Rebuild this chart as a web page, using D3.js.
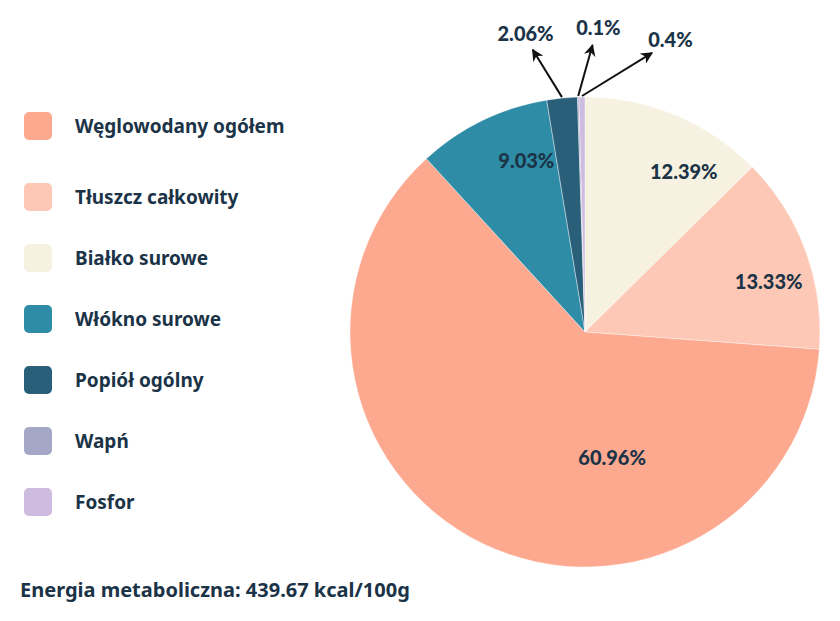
<!DOCTYPE html>
<html lang="pl">
<head>
<meta charset="UTF-8">
<title>Skład</title>
<script src="https://cdn.jsdelivr.net/npm/d3@7"></script>
<style>
  body { margin: 0; background: #fff; }
  svg { display: block; }
</style>
</head>
<body>
<svg width="840" height="621"></svg>
<script>
// dane
var categories = ["Białko surowe", "Tłuszcz całkowity", "Węglowodany ogółem", "Włókno surowe", "Popiół ogólny", "Wapń", "Fosfor"];
var values = [12.39, 13.33, 60.96, 9.03, 2.06, 0.1, 0.4];
var colors = ["#f7f1e1", "#fdc8b5", "#fca98f", "#2e8ca6", "#2a5f7a", "#a5a7c6", "#cdbbe0"];
// kolejność w legendzie
var legendOrder = ["Węglowodany ogółem", "Tłuszcz całkowity", "Białko surowe", "Włókno surowe", "Popiół ogólny", "Wapń", "Fosfor"];
var footer = "Energia metaboliczna: 439.67 kcal/100g";

var textColor = "#1b3347";
var font = "'Noto Sans', sans-serif";

var svg = d3.select("svg");
var color = d3.scaleOrdinal().domain(categories).range(colors);

var cx = 585, cy = 332, radius = 235;

var pie = d3.pie().sort(null).value(function (d) { return d.value; });
var data = categories.map(function (c, i) { return { name: c, value: values[i] }; });
var arcs = pie(data);

var arc = d3.arc().innerRadius(0).outerRadius(radius);

var g = svg.append("g").attr("transform", "translate(" + cx + "," + cy + ")");

g.selectAll("path.slice")
    .data(arcs)
    .enter().append("path")
    .attr("class", "slice")
    .attr("d", arc)
    .attr("fill", function (d) { return color(d.data.name); })
    .attr("stroke", "#fff")
    .attr("stroke-width", 0.4);

// etykiety wewnątrz – przesunięcie kąta (stopnie) i promień względny
var innerNudge = {
    "Białko surowe": [9, 0.80],
    "Tłuszcz całkowity": [5, 0.81],
    "Węglowodany ogółem": [-38, 0.55],
    "Włókno surowe": [7, 0.77]
};

function polar(angle, r) {
    return [Math.sin(angle) * r, -Math.cos(angle) * r];
}

var big = arcs.filter(function (d) { return d.data.value >= 5; });
var small = arcs.filter(function (d) { return d.data.value < 5; });

g.selectAll("text.inner")
    .data(big)
    .enter().append("text")
    .attr("class", "inner")
    .attr("transform", function (d) {
        var n = innerNudge[d.data.name] || [0, 0.7];
        var a = (d.startAngle + d.endAngle) / 2 + n[0] * Math.PI / 180;
        var p = polar(a, radius * n[1]);
        return "translate(" + p[0] + "," + p[1] + ")";
    })
    .attr("text-anchor", "middle")
    .attr("dy", "0.35em")
    .attr("font-family", "Lato, sans-serif")
    .attr("font-weight", 900)
    .attr("font-size", 20)
    .attr("fill", textColor)
    .text(function (d) { return d.data.value + "%"; });

// strzałki dla małych wycinków
svg.append("defs").append("marker")
    .attr("id", "arrow")
    .attr("viewBox", "0 0 10 10")
    .attr("refX", 9).attr("refY", 5)
    .attr("markerWidth", 6).attr("markerHeight", 6)
    .attr("orient", "auto")
    .append("path")
    .attr("d", "M0,0 L10,5 L0,10 L3,5 Z")
    .attr("fill", "#111");

var spread = d3.scaleLinear().domain([0, small.length - 1]).range([-10.5, 13.5]);

var outer = g.selectAll("g.outer")
    .data(small)
    .enter().append("g")
    .attr("class", "outer");

outer.append("line")
    .attr("x1", function (d) { return polar((d.startAngle + d.endAngle) / 2, radius + 1)[0]; })
    .attr("y1", function (d) { return polar((d.startAngle + d.endAngle) / 2, radius + 1)[1]; })
    .attr("x2", function (d, i) { return polar(spread(i) * Math.PI / 180, radius + 52)[0]; })
    .attr("y2", function (d, i) { return polar(spread(i) * Math.PI / 180, radius + 52)[1]; })
    .attr("stroke", "#111")
    .attr("stroke-width", 2)
    .attr("marker-end", "url(#arrow)");

outer.append("text")
    .attr("x", function (d, i) { return polar((spread(i) * 1.15 + 0.8) * Math.PI / 180, radius + 69)[0]; })
    .attr("y", function (d, i) { return polar((spread(i) * 1.15 + 0.8) * Math.PI / 180, radius + 69)[1]; })
    .attr("text-anchor", "middle")
    .attr("dy", "0.35em")
    .attr("font-family", "Lato, sans-serif")
    .attr("font-weight", 900)
    .attr("font-size", 20)
    .attr("fill", textColor)
    .text(function (d) { return d.data.value + "%"; });

// legenda – odstęp między pierwszym a drugim wierszem jest większy
var rowY = function (name) {
    var i = legendOrder.indexOf(name);
    return i === 0 ? 126 : 197 + (i - 1) * (502 - 197) / 5;
};

var legend = svg.append("g").selectAll("g")
    .data(legendOrder)
    .enter().append("g")
    .attr("transform", function (d) { return "translate(24," + rowY(d) + ")"; });

legend.append("rect")
    .attr("x", 0).attr("y", -14)
    .attr("width", 28).attr("height", 28)
    .attr("rx", 5)
    .attr("fill", function (d) { return color(d); });

legend.append("text")
    .attr("x", 51)
    .attr("dy", "0.35em")
    .attr("font-family", font)
    .attr("font-weight", 700)
    .attr("font-size", 19)
    .attr("fill", textColor)
    .text(function (d) { return d; });

svg.append("text")
    .attr("x", 20).attr("y", 590)
    .attr("dy", "0.35em")
    .attr("font-family", font)
    .attr("font-weight", 700)
    .attr("font-size", 20)
    .attr("fill", textColor)
    .text(footer);
</script>
</body>
</html>
